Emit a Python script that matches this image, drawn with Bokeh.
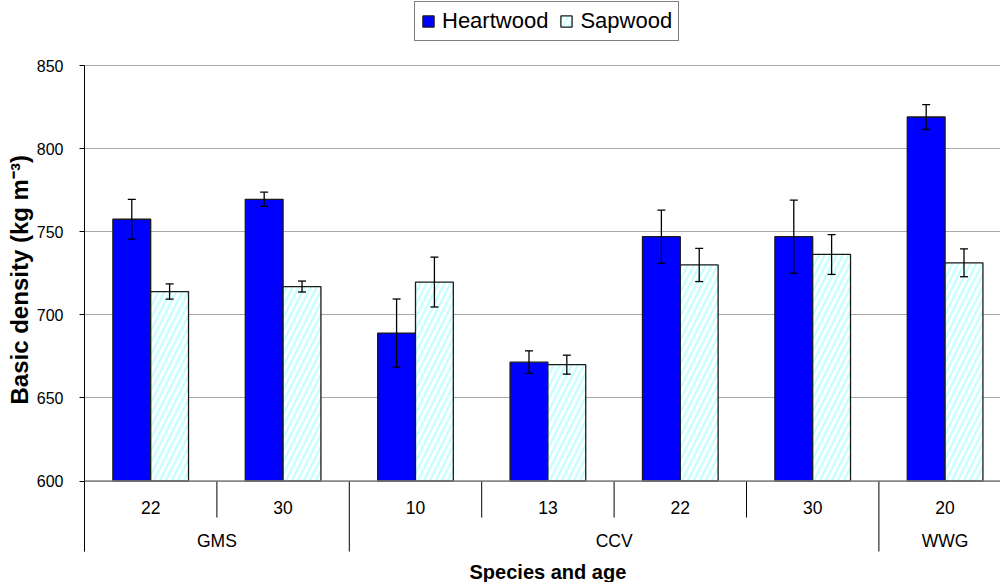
import numpy as np
from bokeh.plotting import figure
from bokeh.models import (ColumnDataSource, Whisker, TeeHead, Legend, LegendItem,
                          Title, Span, FixedTicker, Range1d)
from bokeh.embed import file_html
from bokeh.resources import INLINE
from bokeh.core.properties import value

# Basic density by species and age (mean and error)
species = ["GMS", "GMS", "CCV", "CCV", "CCV", "CCV", "WWG"]
ages = ["22", "30", "10", "13", "22", "30", "20"]
heartwood = [757.5, 769.5, 689.0, 671.5, 747.0, 747.0, 819.0]
heartwood_err = [12.0, 4.3, 20.5, 6.8, 16.0, 22.0, 7.5]
sapwood = [714.0, 717.0, 719.7, 670.0, 730.0, 736.3, 731.3]
sapwood_err = [4.6, 3.3, 15.0, 5.7, 10.0, 12.0, 8.4]
y_ticks = [600, 650, 700, 750, 800, 850]

FONT = "Liberation Sans"
BASE = y_ticks[0]
TOP = y_ticks[-1]
BAR_W = 1 / 3.5            # Excel-like gap width of 150 %
PX_PER_UNIT = 1.662        # vertical scale of the value axis
TOP_PX = 65                # pixel row of the highest tick
FIG_W, FIG_H = 1000, 582
GROUP_PX = 132.4
LEFT = 84

n = len(ages)
idx = np.arange(n)
x_heart = idx + 0.5 - BAR_W / 2
x_sap = idx + 0.5 + BAR_W / 2


def ypx(px):
    """Data value at a given vertical pixel of the figure."""
    return TOP - (px - TOP_PX) / PX_PER_UNIT


heart_src = ColumnDataSource(dict(
    x=x_heart, top=heartwood,
    upper=np.array(heartwood) + np.array(heartwood_err),
    lower=np.array(heartwood) - np.array(heartwood_err)))
sap_src = ColumnDataSource(dict(
    x=x_sap, top=sapwood,
    upper=np.array(sapwood) + np.array(sapwood_err),
    lower=np.array(sapwood) - np.array(sapwood_err)))

# the plotting frame covers the full height; the value axis is bounded to its ticks
p = figure(width=FIG_W, height=FIG_H, output_backend="svg", toolbar_location=None,
           x_range=Range1d(0, (FIG_W - LEFT) / GROUP_PX),
           y_range=Range1d(ypx(FIG_H), ypx(0)),
           x_axis_location=None,
           min_border_left=LEFT, min_border_right=0,
           min_border_top=0, min_border_bottom=0)
p.outline_line_color = None
p.background_fill_color = "white"
p.border_fill_color = "white"

# value axis
p.yaxis.ticker = FixedTicker(ticks=y_ticks)
p.yaxis.bounds = (ypx(551), TOP)
p.yaxis.axis_line_color = "black"
p.yaxis.axis_line_width = 1
p.yaxis.major_tick_in = 0
p.yaxis.major_tick_out = 5
p.yaxis.minor_tick_line_color = None
p.yaxis.major_label_standoff = 16
p.yaxis.major_label_text_font = FONT
p.yaxis.major_label_text_font_size = "16px"
p.yaxis.major_label_text_color = "black"

p.ygrid.ticker = FixedTicker(ticks=y_ticks)
p.ygrid.grid_line_color = "#a8a8a8"
p.ygrid.grid_line_width = 1
p.xgrid.grid_line_color = None

# bars
r_heart = p.vbar(x="x", top="top", bottom=BASE, width=BAR_W, source=heart_src,
                 fill_color="#0000ff", line_color="#1a1a1a", line_width=1.3)
r_sap = p.vbar(x="x", top="top", bottom=BASE, width=BAR_W, source=sap_src,
               fill_color="white", hatch_pattern="/", hatch_color="#c8ffff",
               hatch_scale=12, hatch_weight=2.5,
               line_color="#1a1a1a", line_width=1.3)

# error bars
for src in (heart_src, sap_src):
    p.add_layout(Whisker(source=src, base="x", upper="upper", lower="lower",
                         dimension="height", line_color="black", line_width=1.3,
                         level="overlay",
                         upper_head=TeeHead(size=8, line_color="black", line_width=1.3),
                         lower_head=TeeHead(size=8, line_color="black", line_width=1.3)))

# category axis line
p.add_layout(Span(location=BASE, dimension="width", line_color="#808080", line_width=1.5))

# separators between categories: short within a species, long between species
sep_x, sep_y1 = [], []
for i in range(n + 1):
    sep_x.append(i)
    if i == 0 or i == n or species[i] != species[i - 1]:
        sep_y1.append(ypx(551))
    else:
        sep_y1.append(ypx(517))
p.segment(x0=sep_x, y0=[BASE] * len(sep_x), x1=sep_x, y1=sep_y1,
          line_color="black", line_width=1)

# age labels
p.text(x=idx + 0.5, y=[ypx(506.5)] * n, text=ages, text_font=value(FONT),
       text_font_size="17.5px", text_align="center", text_baseline="middle",
       text_color="black")

# species labels centred on their runs of categories
sp_names, sp_centers = [], []
start = 0
for i in range(1, n + 1):
    if i == n or species[i] != species[start]:
        sp_names.append(species[start])
        sp_centers.append((start + i) / 2)
        start = i
p.text(x=sp_centers, y=[ypx(540.5)] * len(sp_names), text=sp_names,
       text_font=value(FONT), text_font_size="17.5px", text_align="center",
       text_baseline="middle", text_color="black")

# axis titles
p.text(x=[n / 2], y=[ypx(571)], text=["Species and age"], text_font=value(FONT),
       text_font_size="20px", text_font_style="bold", text_align="center",
       text_baseline="middle", text_color="black")
p.add_layout(Title(text="Basic density (kg m⁻³)", align="left", offset=FIG_H - 404,
                   vertical_align="middle", standoff=0,
                   text_font=FONT, text_font_size="24px",
                   text_font_style="bold", text_color="black"), "left")

legend = Legend(items=[LegendItem(label="Heartwood", renderers=[r_heart]),
                       LegendItem(label="Sapwood", renderers=[r_sap])],
                orientation="horizontal",
                location=(414 - LEFT, FIG_H - 41),
                glyph_width=14, glyph_height=14, label_standoff=7, spacing=11,
                padding=6, margin=0, label_height=20,
                label_text_font=FONT, label_text_font_size="22px",
                label_text_color="black",
                border_line_color="black", border_line_width=1,
                background_fill_color="white", background_fill_alpha=1)
p.add_layout(legend)

open("out.html", "w").write(file_html(p, INLINE))
